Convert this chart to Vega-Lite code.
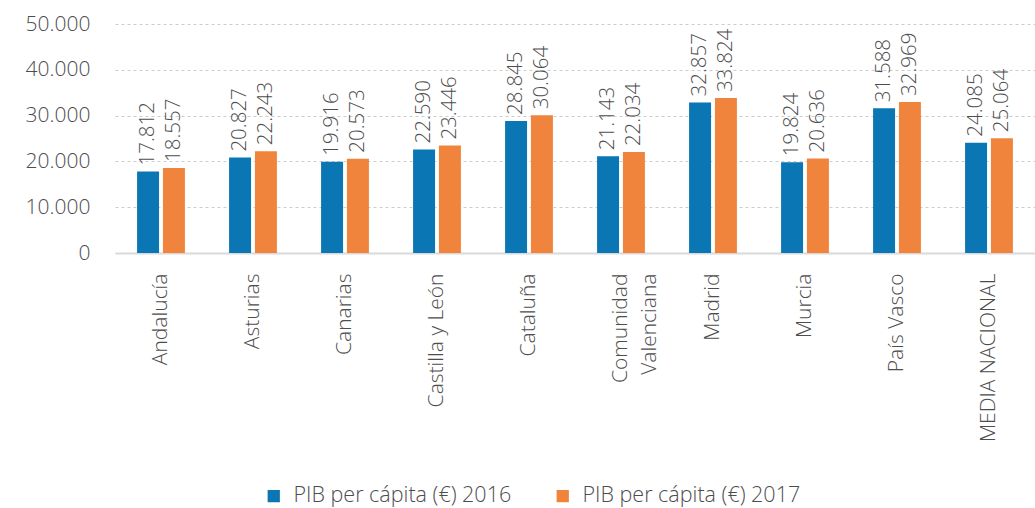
{
  "$schema": "https://vega.github.io/schema/vega-lite/v6.json",
  "autosize": {"type": "none"},
  "padding": {"left": 115, "top": 24, "right": 0, "bottom": 255},
  "width": 920,
  "height": 229,
  "config": {
    "locale": {"number": {"decimal": ",", "thousands": ".", "grouping": [3], "currency": ["", " €"]}},
    "font": "Open Sans",
    "view": {"stroke": null}
  },
  "data": {
    "values": [
      {"region": "Andalucía", "serie": "PIB per cápita (€) 2016", "valor": 17812},
      {"region": "Andalucía", "serie": "PIB per cápita (€) 2017", "valor": 18557},
      {"region": "Asturias", "serie": "PIB per cápita (€) 2016", "valor": 20827},
      {"region": "Asturias", "serie": "PIB per cápita (€) 2017", "valor": 22243},
      {"region": "Canarias", "serie": "PIB per cápita (€) 2016", "valor": 19916},
      {"region": "Canarias", "serie": "PIB per cápita (€) 2017", "valor": 20573},
      {"region": "Castilla y León", "serie": "PIB per cápita (€) 2016", "valor": 22590},
      {"region": "Castilla y León", "serie": "PIB per cápita (€) 2017", "valor": 23446},
      {"region": "Cataluña", "serie": "PIB per cápita (€) 2016", "valor": 28845},
      {"region": "Cataluña", "serie": "PIB per cápita (€) 2017", "valor": 30064},
      {"region": "Comunidad Valenciana", "serie": "PIB per cápita (€) 2016", "valor": 21143},
      {"region": "Comunidad Valenciana", "serie": "PIB per cápita (€) 2017", "valor": 22034},
      {"region": "Madrid", "serie": "PIB per cápita (€) 2016", "valor": 32857},
      {"region": "Madrid", "serie": "PIB per cápita (€) 2017", "valor": 33824},
      {"region": "Murcia", "serie": "PIB per cápita (€) 2016", "valor": 19824},
      {"region": "Murcia", "serie": "PIB per cápita (€) 2017", "valor": 20636},
      {"region": "País Vasco", "serie": "PIB per cápita (€) 2016", "valor": 31588},
      {"region": "País Vasco", "serie": "PIB per cápita (€) 2017", "valor": 32969},
      {"region": "MEDIA NACIONAL", "serie": "PIB per cápita (€) 2016", "valor": 24085},
      {"region": "MEDIA NACIONAL", "serie": "PIB per cápita (€) 2017", "valor": 25064}
    ]
  },
  "encoding": {
    "x": {
      "field": "region", "type": "nominal", "sort": null, "title": null,
      "scale": {"paddingInner": 0.48, "paddingOuter": 0.24},
      "axis": {
        "labelAngle": -90, "labelFontSize": 21, "labelColor": "#4d4d4d", "labelFontWeight": 300,
        "labelPadding": 20, "ticks": false, "domainColor": "#d9d9d9", "domainWidth": 2,
        "labelLineHeight": 29, "labelLimit": 300,
        "labelExpr": "datum.label == 'Comunidad Valenciana' ? ['Comunidad', 'Valenciana'] : datum.label"
      }
    },
    "xOffset": {"field": "serie", "type": "nominal", "scale": {"paddingInner": 0.15}},
    "y": {
      "field": "valor", "type": "quantitative", "title": null,
      "scale": {"domain": [0, 50000], "nice": false},
      "axis": {
        "values": [0, 10000, 20000, 30000, 40000, 50000], "format": ",d", "domain": false, "ticks": false,
        "labelFontSize": 21, "labelColor": "#4d4d4d", "labelFontWeight": 300, "labelPadding": 25,
        "gridColor": "#cccccc", "gridDash": [3, 3], "gridWidth": 1
      }
    }
  },
  "layer": [
    {
      "mark": {"type": "bar"},
      "encoding": {
        "color": {
          "field": "serie", "type": "nominal", "title": null,
          "scale": {"range": ["#0a76b4", "#f0843c"]},
          "legend": {
            "orient": "none", "legendX": 148, "legendY": 461, "direction": "horizontal", "symbolType": "square", "symbolSize": 150,
            "labelFontSize": 21.5, "labelColor": "#4d4d4d", "labelFontWeight": 300, "columnPadding": 40,
            "labelOffset": 9, "symbolStrokeWidth": 0, "labelLimit": 400
          }
        }
      }
    },
    {
      "mark": {"type": "text", "angle": 270, "align": "left", "baseline": "middle", "dx": 6, "fontSize": 20.5, "color": "#4d4d4d", "fontWeight": 300},
      "encoding": {
        "text": {"field": "valor", "type": "quantitative", "format": ",d"}
      }
    }
  ]
}
